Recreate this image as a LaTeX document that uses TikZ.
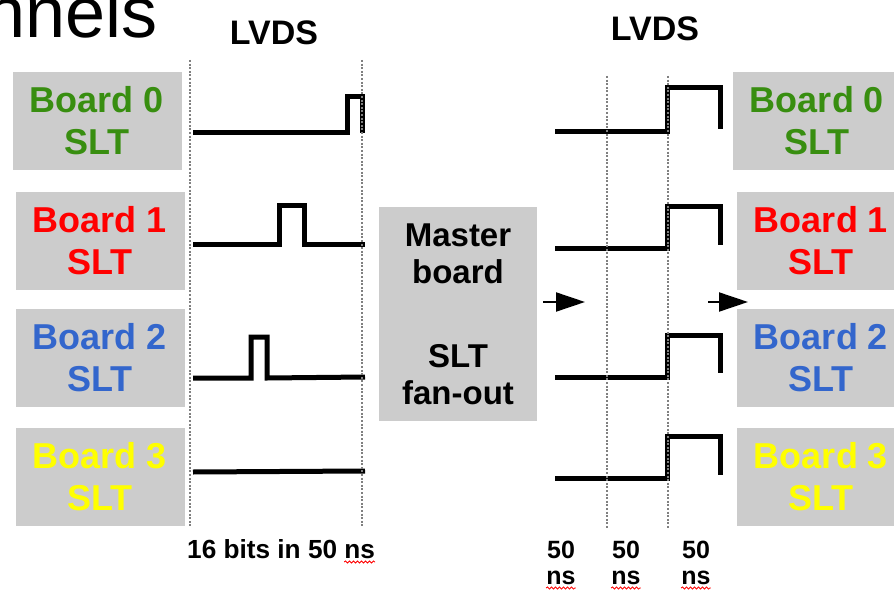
\documentclass[tikz,border=0pt]{standalone}
\usepackage{fontspec}
\setmainfont{Liberation Sans}
\usetikzlibrary{arrows.meta,positioning,decorations.pathmorphing}
\definecolor{boxgray}{RGB}{204,204,204}
\definecolor{brdgreen}{RGB}{56,142,16}
\definecolor{brdred}{RGB}{255,0,0}
\definecolor{brdblue}{RGB}{51,102,204}
\definecolor{brdyellow}{RGB}{255,255,0}

\begin{document}
\begin{tikzpicture}[x=1pt, y=-1pt,
  brd/.style={fill=boxgray, minimum width=169pt, minimum height=98pt, inner sep=0pt, align=center, font=\bfseries\fontsize{36}{42}\selectfont},
  lab/.style={font=\bfseries\fontsize{25}{29}\selectfont, inner sep=0pt},
  wave/.style={line width=5pt, line join=miter},
  grid/.style={draw=black!50, line width=2pt, dash pattern=on 2pt off 1.6pt},
  arrow/.style={-{Triangle[length=29pt,width=19pt]}, line width=2pt},
  spell/.style={draw=red, line width=0.8pt, decorate, decoration={snake, amplitude=1.1pt, segment length=4pt}}
]
\useasboundingbox (0,0) rectangle (894,591);
\clip (0,0) rectangle (894,591);

% title, cut by the page
\node[anchor=base east, inner sep=0pt, font=\fontsize{72}{80}\selectfont] (title) at (158,38) {Channels};
\node[lab, font=\bfseries\fontsize{34}{40}\selectfont] (lvdsL) at (274,33) {LVDS};
\node[lab, font=\bfseries\fontsize{34}{40}\selectfont] (lvdsR) at (655,29) {LVDS};

% boards, left
\node[brd, text=brdgreen] (b0L) at (97,121) {Board 0\\SLT};
\node[brd, text=brdred] (b1L) at (100,241) {Board 1\\SLT};
\node[brd, text=brdblue] (b2L) at (100,358) {Board 2\\SLT};
\node[brd, text=brdyellow] (b3L) at (100,477) {Board 3\\SLT};

% boards, right
\node[brd, text=brdgreen] (b0R) at (817,121) {Board 0\\SLT};
\node[brd, text=brdred] (b1R) at (821,241) {Board 1\\SLT};
\node[brd, text=brdblue] (b2R) at (821,358) {Board 2\\SLT};
\node[brd, text=brdyellow] (b3R) at (821,477) {Board 3\\SLT};

% master
\node[brd, text=black, minimum width=158pt, minimum height=214pt, font=\bfseries\fontsize{33}{37}\selectfont] (master) at (458,314) {Master\\board\\[47pt]SLT\\fan-out};

% left signals
\draw[wave] (193,133) -- (347,133) -- (347,97) -- (362,97) -- (362,133);
\draw[wave] (193,244) -- (279,244) -- (279,205) -- (304,205) -- (304,244) -- (365,244);
\draw[wave] (193,378) -- (251,378) -- (251,337) -- (267,337) -- (267,378) -- (365,377);
\draw[wave] (193,472) -- (365,471);

% right signals
\draw[wave] (555,132) -- (667,132) -- (667,88) -- (720,88) -- (720,129);
\draw[wave] (555,248) -- (667,248) -- (667,206) -- (720,206) -- (720,245);
\draw[wave] (555,377) -- (667,377) -- (667,335) -- (720,335) -- (720,373);
\draw[wave] (555,478) -- (667,478) -- (667,436) -- (720,436) -- (720,475);

% time marks
\draw[grid] (190,60) -- (190,527);
\draw[grid] (362,60) -- (362,527);
\draw[grid] (607,76) -- (607,529);
\draw[grid] (668,76) -- (668,529);

% arrows
\coordinate (aL0) at (543,302);
\coordinate (aL1) at (585,302);
\coordinate (aR0) at (708,302);
\coordinate (aR1) at (748,302);
\draw[arrow] (aL0) -- (aL1);
\draw[arrow] (aR0) -- (aR1);

% time labels
\node[lab, anchor=base west, font=\bfseries\fontsize{26.2}{30}\selectfont] (bits) at (187,558) {16 bits in 50 ns};
\draw[spell] ([xshift=-31pt,yshift=-4pt]bits.base east) -- ([yshift=-4pt]bits.base east);
\node[lab, anchor=base] (t1) at (561,558) {50};
\node[lab, anchor=base] (t2) at (626,558) {50};
\node[lab, anchor=base] (t3) at (696,558) {50};
\node[lab, anchor=base] (ns1) at (561,584) {ns};
\node[lab, anchor=base] (ns2) at (626,584) {ns};
\node[lab, anchor=base] (ns3) at (696,584) {ns};
\draw[spell] ([yshift=-4pt]ns1.base west) -- ([yshift=-4pt]ns1.base east);
\draw[spell] ([yshift=-4pt]ns2.base west) -- ([yshift=-4pt]ns2.base east);
\draw[spell] ([yshift=-4pt]ns3.base west) -- ([yshift=-4pt]ns3.base east);
\end{tikzpicture}
\end{document}
